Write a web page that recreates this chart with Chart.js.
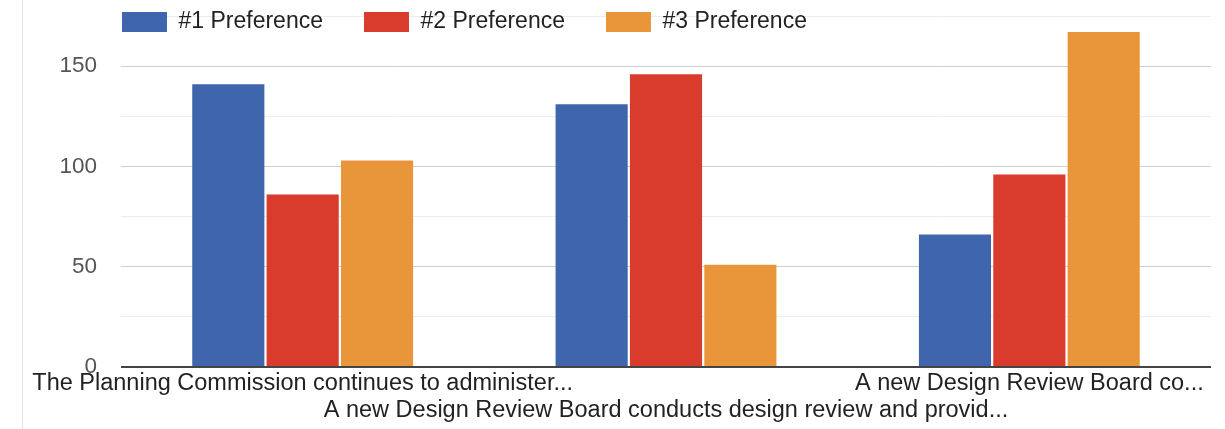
<!DOCTYPE html>
<html>
<head>
<meta charset="utf-8">
<script src="https://cdn.jsdelivr.net/npm/chart.js@4/dist/chart.umd.min.js"></script>
<style>
  html, body { margin: 0; padding: 0; background: #fff; }
  #wrap { position: relative; width: 1225px; height: 429px; }
  #edge { position: absolute; left: 22px; top: 0; width: 1px; height: 429px; background: #e4e4e4; }
  canvas { position: absolute; left: 0; top: 0; }
</style>
</head>
<body>
<div id="wrap"><div id="edge"></div><canvas id="c" width="1225" height="429"></canvas></div>
<script>
const categories = [
  "The Planning Commission continues to administer...",
  "A new Design Review Board conducts design review and provid...",
  "A new Design Review Board co..."
];
const seriesNames = ["#1 Preference", "#2 Preference", "#3 Preference"];
const pref1 = [141, 131, 66];
const pref2 = [86, 146, 96];
const pref3 = [103, 51, 167];
const yTicks = [0, 50, 100, 150];
const colors = ["#3f65ad", "#d93b2d", "#e9963b"];

const FONT = "'Liberation Sans', Arial, sans-serif";
const LEGEND_PAD = 41;

// staggered labels: odd categories on a second line
const xLabels = categories.map((c, i) => i % 2 === 1 ? ["", c] : [c]);

const legendShift = {
  id: 'legendShift',
  afterInit(chart) {
    const lg = chart.legend;
    if (!lg) return;
    const origFit = lg.fit.bind(lg);
    lg.fit = function () { origFit(); this.height = 0; };
  },
  afterLayout(chart) {
    const lg = chart.legend;
    if (!lg) return;
    lg.left = 122 - LEGEND_PAD;
    lg.top = 10.5 - LEGEND_PAD;
    lg.bottom = 60;
    lg.right = chart.width;
  }
};

new Chart(document.getElementById('c'), {
  type: 'bar',
  data: {
    labels: xLabels,
    datasets: [pref1, pref2, pref3].map((d, i) => ({
      label: seriesNames[i],
      data: d,
      backgroundColor: colors[i],
      borderWidth: 0,
      barPercentage: 0.97,
      categoryPercentage: 0.614
    }))
  },
  options: {
    responsive: false,
    animation: false,
    devicePixelRatio: 1,
    layout: { padding: { left: 0, right: 14, top: 16, bottom: 0 } },
    plugins: {
      tooltip: { enabled: false },
      legend: {
        position: 'top',
        align: 'start',
        labels: {
          boxWidth: 45,
          boxHeight: 20,
          padding: LEGEND_PAD,
          color: '#222',
          font: { family: FONT, size: 23 }
        }
      }
    },
    scales: {
      x: {
        grid: { display: false, drawTicks: false },
        border: { display: false },
        ticks: {
          autoSkip: false,
          maxRotation: 0,
          minRotation: 0,
          padding: 3,
          color: '#222',
          font: { family: FONT, size: 23.5, lineHeight: 1.15 }
        },
        afterFit(scale) {
          scale.height = 62;
          scale.paddingLeft = 0; scale.paddingRight = 0;
        }
      },
      y: {
        min: 0,
        max: 175,
        border: { display: false },
        grid: {
          drawTicks: false,
          color: (ctx) => {
            const v = ctx.tick.value;
            if (v === 0) return '#444';
            return yTicks.includes(v) ? '#cfcfcf' : '#ececec';
          },
          lineWidth: (ctx) => ctx.tick.value === 0 ? 2 : 1
        },
        ticks: {
          stepSize: 25,
          padding: 24,
          color: '#555',
          font: { family: FONT, size: 22.5 },
          callback: (v) => yTicks.includes(v) ? String(v) : ''
        },
        afterFit(scale) {
          scale.width = 121;
          scale.paddingTop = 0; scale.paddingBottom = 0;
        }
      }
    }
  },
  plugins: [legendShift]
});
</script>
</body>
</html>
